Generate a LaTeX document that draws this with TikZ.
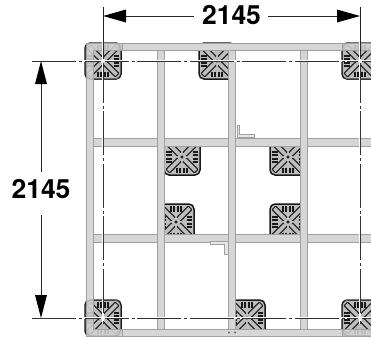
\documentclass[tikz,border=0pt]{standalone}
\usepackage{fontspec}
\setmainfont{TeX Gyre Heros}
\usepackage{tikz}

\definecolor{railgray}{HTML}{D6D6D6}
\definecolor{railwash}{HTML}{D2D2D2}
\definecolor{railedge}{HTML}{A0A0A0}
\definecolor{tilegray}{HTML}{BEBEBE}
\tikzset{
    rail/.style={fill=railgray, draw=railedge, line width=0.8pt},
    frame/.style={fill=railwash, fill opacity=0.88, draw=railedge, line width=0.8pt},
    bracket/.style={fill=railgray!60, draw=railedge, line width=0.8pt},
    dimline/.style={line width=0.8pt, draw=black!85},
    dimtip/.style={fill=black, draw=none},
    dimtext/.style={inner sep=0pt, font=\bfseries\fontsize{26.5}{26.5}\selectfont},
    centreline/.style={line width=0.9pt, draw=black!80, dash pattern=on 44pt off 3pt on 3pt off 2.5pt},
    halo/.style={line width=2.2pt, draw=white},
    ring/.style={draw=railedge, draw opacity=0.7, line width=0.7pt, rounded corners=6pt},
    slot/.style={line width=1.9pt, draw=black!90},
    tile/.pic={
        \draw[fill=tilegray, draw=black!90, line width=1.5pt, rounded corners=5pt] (-18,-18) rectangle (18,18);
        % four arms of the cross
        \foreach \a in {45,135,225,315}{
            \begin{scope}[rotate=\a]
                \draw[line width=1pt, black!90, fill=tilegray, rounded corners=1pt] (3.5,-2.6) rectangle (20,2.6);
            \end{scope}
        }
        \fill[tilegray] (0,0) circle (4.6);
        \fill[black!90] (0,0) circle (1.7);
        % slots on each side
        \foreach \a in {0,90,180,270}{
            \begin{scope}[rotate=\a]
                \foreach \s in {-5,-1.7,1.7,5}{
                    \draw[slot] (\s,10.5) -- (\s,16);
                }
            \end{scope}
        }
    }
}

\begin{document}
\begin{tikzpicture}[x=1pt, y=-1pt]
    \useasboundingbox (0,0) rectangle (371,338);
    \begin{scope}
        \clip (0,0) rectangle (371,338); % keeps the right hand tiles cut off

        \foreach \x/\y in {103/61, 217/61, 360/61, 182/157, 288/157, 176/222, 288/222, 103/318, 247/318, 360/318}{
            \pic at (\x,\y) {tile};
        }

        % horizontal rails first, vertical ones run over them
        \foreach \y in {138.5,234.5}{
            \draw[rail] (93,\y) rectangle (375,\y+7.5);
        }
        \foreach \x in {157,228,300}{
            \draw[rail] (\x,50) rectangle (\x+7.5,329);
        }
        % outer frame, open at the right, see-through only over the corner tiles
        \draw[frame] (375,43.5) -- (86.5,43.5) -- (86.5,336) -- (375,336) -- (375,329) -- (93,329) -- (93,50) -- (375,50) -- cycle;
        \draw[rail] (122,43.5) rectangle (342,50);
        \draw[rail] (122,329) rectangle (342,336);

        % brackets
        \draw[bracket] (237,125) -- (239.5,125) -- (239.5,134) -- (254,134) -- (254,137) -- (237,137) -- cycle;
        \draw[bracket] (210,241) -- (228,241) -- (228,254) -- (224.5,254) -- (224.5,244) -- (210,244) -- cycle;

        % corner rings
        \foreach \x/\y in {103/61, 360/61, 103/318, 360/318}{
            \draw[ring] (\x-17,\y-18) rectangle (\x+17,\y+18);
        }

        \fill[black!60] (229,332.5) circle (1.2);
        \fill[black!60] (235,332.5) circle (1.2);

        % centre lines
        \foreach \y in {61,318}{
            \draw[halo] (74,\y) -- (371,\y);
            \draw[centreline] (32,\y) -- (371,\y);
        }
        \foreach \x in {103,360}{
            \draw[halo] (\x,40) -- (\x,324);
            \draw[dimline] (\x,7) -- (\x,58.5);
            \draw[centreline] (\x,58.5) -- (\x,324);
        }
        \foreach \x/\y in {103/61, 360/61, 103/318, 360/318}{
            \fill[white] (\x,\y) circle (2);
        }
    \end{scope}

    % dimensions
    \node[dimtext] (dimtop) at (231.5,15) {2145};
    \node[dimtext] (dimleft) at (41,189) {2145};
    \coordinate (topl) at (103,16);
    \coordinate (topr) at (360,16);
    \coordinate (leftt) at (41,61);
    \coordinate (leftb) at (41,318);

    \draw[dimline] (126,16) -- (194,16);
    \draw[dimline] (268,16) -- (338,16);
    \draw[dimline] (41,83) -- (41,172);
    \draw[dimline] (41,215) -- (41,296);
    \fill[dimtip] (topl) -- ++(23,-6.5) -- ++(0,13) -- cycle;
    \fill[dimtip] (topr) -- ++(-23,-6.5) -- ++(0,13) -- cycle;
    \fill[dimtip] (leftt) -- ++(-6,23) -- ++(12,0) -- cycle;
    \fill[dimtip] (leftb) -- ++(-6,-23) -- ++(12,0) -- cycle;
\end{tikzpicture}
\end{document}
